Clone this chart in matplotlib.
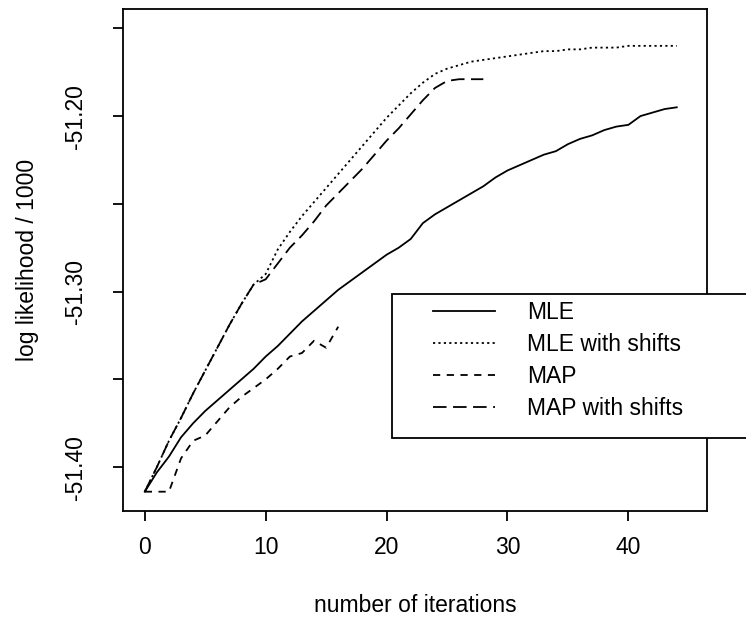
import matplotlib
matplotlib.use("Agg")
import matplotlib.pyplot as plt
from matplotlib.patches import Rectangle

plt.rcParams['font.family'] = ['Liberation Sans', 'DejaVu Sans']

# log likelihood / 1000, one value per iteration
mle = [-51.414, -51.403, -51.394, -51.383, -51.375, -51.368, -51.362, -51.356,
       -51.350, -51.344, -51.337, -51.331, -51.324, -51.317, -51.311, -51.305,
       -51.299, -51.294, -51.289, -51.284, -51.279, -51.275, -51.270, -51.261,
       -51.256, -51.252, -51.248, -51.244, -51.240, -51.235, -51.231, -51.228,
       -51.225, -51.222, -51.220, -51.216, -51.213, -51.211, -51.208, -51.206,
       -51.205, -51.200, -51.198, -51.196, -51.195]
mle_shift = [-51.414, -51.400, -51.385, -51.372, -51.358, -51.345, -51.332, -51.319,
             -51.307, -51.296, -51.290, -51.276, -51.266, -51.257, -51.249, -51.241,
             -51.233, -51.225, -51.217, -51.209, -51.201, -51.194, -51.187, -51.181,
             -51.176, -51.173, -51.171, -51.169, -51.168, -51.167, -51.166, -51.165,
             -51.164, -51.163, -51.163, -51.162, -51.162, -51.161, -51.161, -51.161,
             -51.160, -51.160, -51.160, -51.160, -51.160]
map_ = [-51.414, -51.414, -51.414, -51.395, -51.385, -51.382, -51.374, -51.366,
        -51.360, -51.355, -51.350, -51.344, -51.337, -51.335, -51.328, -51.332,
        -51.320]
map_shift = [-51.414, -51.400, -51.385, -51.372, -51.358, -51.345, -51.332, -51.319,
             -51.307, -51.296, -51.293, -51.284, -51.275, -51.268, -51.260, -51.251,
             -51.244, -51.237, -51.230, -51.222, -51.214, -51.207, -51.199, -51.191,
             -51.184, -51.180, -51.179, -51.179, -51.179]

labels = ["MLE", "MLE with shifts", "MAP", "MAP with shifts"]
yticks = [-51.40, -51.35, -51.30, -51.25, -51.20, -51.15]
ytick_labels = ["-51.40", "", "-51.30", "", "-51.20", ""]
xticks = [0, 10, 20, 30, 40]

W, H = 746, 628
fs = 16.5
lw = 1.3

fig = plt.figure(figsize=(W / 100, H / 100), dpi=100)
ax = fig.add_axes([123 / W, 1 - 511 / H, (707 - 123) / W, (511 - 9) / H])

styles = ['-', (0, (1.2, 1.8)), (0, (4.0, 3.6)), (0, (7.5, 3.6))]
series = [mle, mle_shift, map_, map_shift]
handles = []
for s, ls, lab in zip(series, styles, labels):
    h, = ax.plot(range(len(s)), s, color='black', lw=lw, linestyle=ls, label=lab)
    handles.append(h)

ax.set_xlim(-1.8, 46.5)
ax.set_ylim(-51.425, -51.139)
ax.set_xticks(xticks)
ax.set_yticks(yticks)
ax.set_yticklabels(ytick_labels, rotation=90, va='center')
ax.tick_params(axis='both', direction='out', length=7, width=lw, labelsize=fs, color='black')
ax.tick_params(axis='x', pad=11)
ax.tick_params(axis='y', pad=19)
for sp in ax.spines.values():
    sp.set_linewidth(lw)

ax.set_xlabel("number of iterations", fontsize=fs, labelpad=25)
ax.set_ylabel("log likelihood / 1000", fontsize=fs, labelpad=18)

# legend box sticks out past the right edge of the axes
box = Rectangle((392 / W, 1 - 438 / H), (780 - 392) / W, (438 - 294) / H,
                transform=fig.transFigure, fill=True, facecolor='white',
                edgecolor='black', lw=lw, clip_on=False, zorder=5)
fig.add_artist(box)
leg = fig.legend(handles, labels, loc='upper left', frameon=False,
                 bbox_to_anchor=(433 / W, 1 - 301 / H), borderpad=0, borderaxespad=0,
                 fontsize=fs, handlelength=2.7, handletextpad=1.4, labelspacing=0.4)
leg.set_zorder(6)

fig.savefig("out.png", dpi=100)
